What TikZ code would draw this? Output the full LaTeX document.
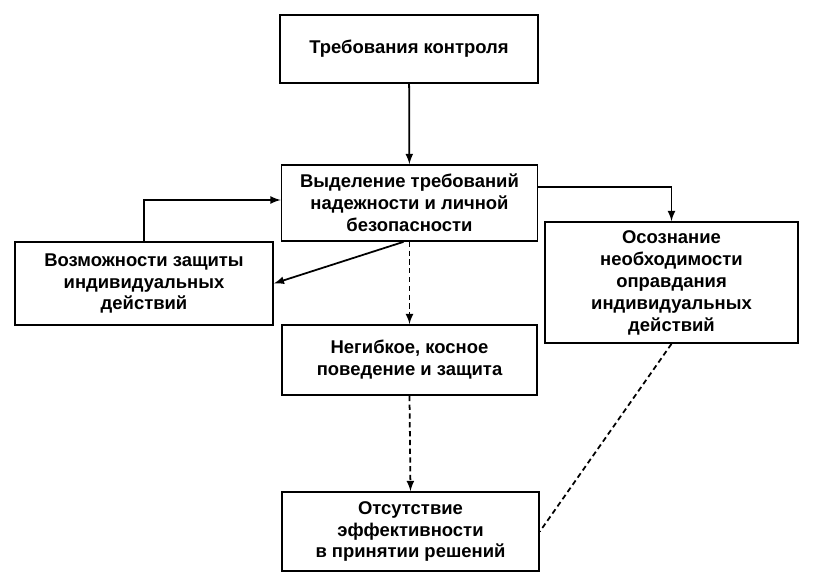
\documentclass[tikz,border=0pt]{standalone}
\usepackage{fontspec}
\setmainfont{Liberation Sans}
\usepackage{tikz}
\tikzset{
    block/.style={draw, line width=1pt, align=center, inner sep=2pt,
        font=\bfseries\fontsize{10.5}{12.5}\selectfont},
    link/.style={line width=1pt, ->, >=latex},
    dlink/.style={line width=1pt, dashed, dash pattern=on 3pt off 2pt},
}
\begin{document}
\begin{tikzpicture}[x=0.02cm, y=-0.02cm]
\useasboundingbox (0,0) rectangle (816,584);
\node[block, minimum width=5.16cm, minimum height=1.36cm] (ctrl) at (409,49) {Требования контроля};
\node[block, minimum width=5.12cm, minimum height=1.52cm] (sel) at (409.5,203) {Выделение требований\\надежности и личной\\безопасности};
\node[block, minimum width=5.16cm, minimum height=1.66cm] (prot) at (144,283.5) {Возможности защиты\\индивидуальных\\действий};
\node[block, minimum width=5.06cm, minimum height=2.42cm] (aware) at (671.5,282.5) {Осознание\\необходимости\\оправдания\\индивидуальных\\действий};
\node[block, minimum width=5.1cm, minimum height=1.4cm] (rigid) at (409.5,360) {Негибкое, косное\\поведение и защита};
\node[block, minimum width=5.14cm, minimum height=1.58cm] (lack) at (410.5,531.5) {Отсутствие\\эффективности\\в принятии решений};
% solid links
\draw[link] (ctrl) -- (sel);
\draw[link] (prot.north) |- (sel.west |- 0,200);
\draw[link] (sel.east |- 0,187) -| (aware.north);
\draw[link] ([xshift=-0.12cm]sel.south) -- (prot.east);
% dashed links
\draw[link, dlink] (sel.south) -- (rigid.north);
\draw[link, dlink] (rigid.south) -- (lack.north);
\draw[dlink] (aware.south) -- (lack.east);
\end{tikzpicture}
\end{document}
